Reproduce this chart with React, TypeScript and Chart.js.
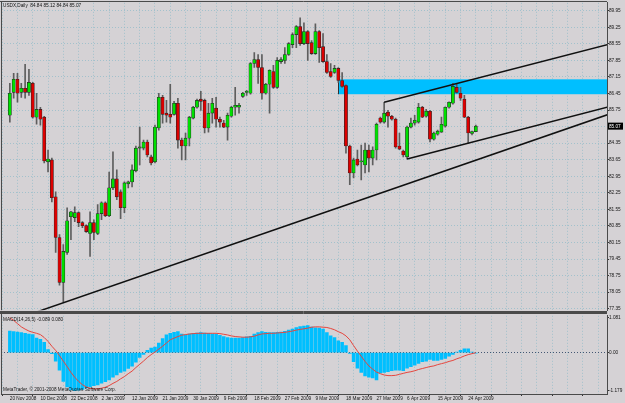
import React, { useEffect, useRef } from 'react';
import { Chart, registerables } from 'chart.js';

Chart.register(...registerables);

// ---------- data ----------
const titleText = 'USDX,Daily  84.84 85.12 84.84 85.07';
const macdTitle = 'MACD(14,26,5) -0.089 0.080';
const copyrightText = 'MetaTrader, \u00A9 2001-2008 MetaQuotes Software Corp.';

const opens = [
  85.53, 86.50, 87.05, 86.50, 86.67, 86.50, 86.88, 85.45, 85.78, 85.45,
  83.56, 83.64, 82.08, 80.36, 78.46, 79.73, 81.24, 81.20, 81.41, 80.99,
  80.86, 80.53, 80.99, 80.53, 81.37, 81.83, 81.28, 82.46, 82.84, 82.29,
  81.62, 82.63, 82.71, 83.18, 84.14, 84.14, 84.40, 83.77, 83.56, 84.99,
  86.29, 85.62, 85.57, 85.57, 86.04, 84.48, 84.23, 84.56, 85.41, 85.87,
  86.21, 86.16, 84.99, 85.62, 85.83, 85.36, 85.20, 85.03, 85.49, 85.87,
  85.87, 86.33, 86.50, 86.46, 87.72, 87.89, 87.55, 86.46, 86.84, 87.38,
  86.71, 87.80, 87.85, 88.10, 88.52, 88.94, 89.28, 88.56, 89.07, 88.60,
  88.14, 89.07, 88.43, 87.80, 87.38, 87.34, 87.51, 87.00, 86.79, 84.23,
  83.09, 83.68, 83.56, 83.43, 84.06, 83.72, 84.06, 85.41, 85.24, 85.66,
  85.49, 85.36, 84.23, 84.02, 83.77, 85.03, 85.20, 85.24, 85.87, 85.49,
  85.70, 84.52, 84.73, 84.82, 85.07, 85.87, 86.04, 86.71, 86.46, 86.21,
  85.45, 84.76, 84.84,
];
const highs = [
  86.88, 87.30, 87.30, 86.88, 87.68, 87.47, 86.92, 86.46, 85.87, 85.49,
  84.06, 83.72, 82.29, 80.48, 80.06, 81.62, 81.47, 81.66, 81.45, 81.03,
  80.90, 81.45, 81.11, 81.75, 81.87, 81.87, 83.13, 83.98, 83.22, 82.38,
  82.71, 82.75, 83.43, 84.23, 85.03, 84.48, 84.48, 83.85, 85.11, 86.46,
  86.37, 86.16, 86.84, 86.12, 86.25, 84.56, 84.78, 85.49, 85.91, 86.21,
  86.54, 86.21, 86.04, 86.25, 86.29, 85.45, 85.32, 85.62, 85.91, 86.71,
  86.04, 86.50, 86.58, 87.76, 88.18, 88.10, 88.10, 86.88, 87.45, 87.64,
  87.97, 87.97, 88.39, 88.60, 89.02, 89.32, 89.65, 89.44, 89.11, 88.69,
  89.40, 89.11, 88.98, 88.10, 87.72, 87.64, 87.55, 87.34, 86.82, 84.27,
  83.72, 84.06, 84.27, 84.35, 84.27, 84.19, 85.20, 85.45, 86.08, 85.74,
  85.53, 85.41, 84.78, 84.06, 85.07, 85.41, 85.53, 86.04, 85.91, 85.78,
  85.74, 84.82, 84.90, 85.45, 85.89, 86.10, 86.88, 86.88, 86.71, 86.37,
  85.49, 84.86, 85.12,
];
const lows = [
  85.24, 86.25, 86.08, 86.29, 86.25, 86.37, 85.41, 85.15, 85.11, 83.51,
  83.13, 81.87, 79.73, 78.34, 77.62, 79.64, 80.27, 81.03, 80.82, 80.78,
  80.57, 79.56, 80.27, 80.48, 81.11, 81.24, 81.24, 82.38, 81.96, 81.16,
  81.41, 82.46, 82.50, 83.13, 83.43, 84.06, 83.77, 83.43, 83.51, 84.90,
  85.20, 85.24, 85.20, 85.53, 84.14, 83.64, 83.64, 84.23, 85.38, 85.83,
  85.74, 84.78, 84.82, 85.20, 85.03, 85.03, 85.01, 84.48, 85.45, 85.53,
  85.62, 86.29, 86.37, 86.42, 87.55, 86.88, 86.21, 86.42, 85.62, 86.67,
  86.67, 87.72, 87.72, 88.06, 88.39, 88.39, 88.48, 88.52, 87.85, 88.10,
  88.10, 87.76, 87.76, 87.30, 87.13, 87.30, 86.92, 86.71, 83.93, 82.59,
  82.88, 83.39, 82.80, 83.09, 83.13, 83.43, 83.64, 85.20, 85.20, 85.03,
  85.32, 84.14, 84.08, 83.77, 83.68, 84.99, 85.11, 85.20, 85.43, 85.45,
  84.40, 84.48, 84.69, 84.80, 85.03, 85.83, 86.00, 86.46, 86.16, 85.43,
  84.35, 84.70, 84.84,
];
const closes = [
  86.46, 87.05, 86.46, 86.67, 86.50, 86.92, 85.45, 85.78, 85.36, 83.60,
  83.68, 82.04, 80.36, 78.46, 79.77, 81.07, 81.45, 81.41, 80.99, 80.86,
  80.61, 80.99, 80.57, 81.37, 81.83, 81.28, 82.46, 82.84, 82.08, 81.62,
  82.67, 82.71, 83.22, 84.14, 84.19, 84.40, 83.85, 83.51, 85.03, 86.29,
  85.57, 85.53, 85.45, 86.04, 84.48, 84.23, 84.56, 85.45, 85.87, 86.16,
  86.12, 84.99, 85.62, 86.04, 85.36, 85.24, 85.03, 85.53, 85.87, 85.95,
  85.95, 86.46, 86.54, 87.72, 87.89, 87.55, 86.46, 86.84, 87.43, 86.71,
  87.85, 87.89, 88.10, 88.56, 88.94, 89.28, 88.56, 89.07, 88.56, 88.14,
  89.07, 88.39, 87.80, 87.34, 87.17, 87.51, 87.00, 86.75, 84.23, 83.09,
  83.64, 83.43, 83.60, 84.06, 83.72, 84.06, 85.15, 85.24, 85.62, 85.49,
  85.36, 84.19, 84.10, 83.85, 85.03, 85.20, 85.32, 85.87, 85.45, 85.70,
  84.52, 84.78, 84.86, 85.15, 85.87, 86.08, 86.75, 86.50, 86.25, 85.45,
  84.78, 84.84, 85.07,
];

const macdHist = [
  0.67, 0.65, 0.64, 0.62, 0.60, 0.58, 0.56, 0.45, 0.41, 0.32,
  0.10, -0.03, -0.26, -0.54, -0.89, -1.06, -1.15, -1.179, -1.16, -1.14,
  -1.09, -1.06, -1.02, -1.00, -0.94, -0.90, -0.84, -0.76, -0.69, -0.61,
  -0.57, -0.49, -0.42, -0.29, -0.15, -0.05, 0.07, 0.14, 0.17, 0.30,
  0.44, 0.55, 0.60, 0.63, 0.65, 0.58, 0.55, 0.58, 0.60, 0.61,
  0.62, 0.61, 0.60, 0.58, 0.57, 0.54, 0.50, 0.47, 0.45, 0.45,
  0.45, 0.47, 0.49, 0.51, 0.58, 0.62, 0.65, 0.63, 0.62, 0.62,
  0.63, 0.64, 0.66, 0.70, 0.73, 0.78, 0.81, 0.82, 0.84, 0.79,
  0.77, 0.76, 0.73, 0.62, 0.52, 0.47, 0.37, 0.32, 0.22, -0.02,
  -0.28, -0.48, -0.61, -0.72, -0.76, -0.78, -0.84, -0.63, -0.61, -0.59,
  -0.56, -0.54, -0.54, -0.56, -0.48, -0.43, -0.39, -0.33, -0.28, -0.26,
  -0.21, -0.24, -0.24, -0.21, -0.18, -0.11, -0.05, 0.02, 0.07, 0.12,
  0.12, 0.02, -0.01,
];
const macdSignal = [
  1.081, 1.00, 0.90, 0.80, 0.73, 0.67, 0.63, 0.60, 0.56, 0.47,
  0.35, 0.20, 0.07, -0.09, -0.26, -0.43, -0.61, -0.76, -0.89, -0.99,
  -1.06, -1.10, -1.12, -1.12, -1.10, -1.07, -1.02, -0.95, -0.89, -0.81,
  -0.74, -0.65, -0.57, -0.46, -0.36, -0.26, -0.15, -0.06, 0.02, 0.11,
  0.20, 0.30, 0.40, 0.45, 0.50, 0.54, 0.56, 0.58, 0.59, 0.60,
  0.60, 0.60, 0.60, 0.60, 0.60, 0.59, 0.57, 0.55, 0.52, 0.50,
  0.49, 0.48, 0.48, 0.49, 0.51, 0.55, 0.58, 0.59, 0.60, 0.60,
  0.61, 0.62, 0.63, 0.65, 0.67, 0.70, 0.72, 0.74, 0.76, 0.79,
  0.80, 0.80, 0.79, 0.78, 0.75, 0.71, 0.65, 0.60, 0.52, 0.40,
  0.22, 0.05, -0.11, -0.27, -0.41, -0.51, -0.60, -0.65, -0.69, -0.71,
  -0.71, -0.70, -0.67, -0.64, -0.61, -0.59, -0.56, -0.52, -0.49, -0.46,
  -0.43, -0.41, -0.37, -0.34, -0.31, -0.27, -0.24, -0.19, -0.15, -0.10,
  -0.06, -0.03, 0.00,
];

const priceTicks = [
  89.95, 89.25, 88.55, 87.85, 87.15, 86.45, 85.75, 85.05, 84.35, 83.65,
  82.95, 82.25, 81.55, 80.85, 80.15, 79.45, 78.75, 78.05, 77.35,
];
const lastPrice = 85.07;
const hiddenPriceTick = 85.05;
const macdTicks = [1.081, 0, -1.179];
const macdTickLabels = ['1.081', '0.00', '-1.179'];
const dateLabels = [
  '20 Nov 2008', '10 Dec 2008', '22 Dec 2008', '2 Jan 2009', '12 Jan 2009',
  '21 Jan 2009', '30 Jan 2009', '9 Feb 2009', '18 Feb 2009', '27 Feb 2009',
  '9 Mar 2009', '18 Mar 2009', '27 Mar 2009', '6 Apr 2009', '15 Apr 2009',
  '24 Apr 2009',
];
const barsPerDateLabel = 8;
const barsPerGridLine = 4;

// rectangle zone
const zoneStartBar = 86;
const zoneTop = 87.05;
const zoneBottom = 86.42;
// trend lines: [bar, price] anchors
const supportAnchors = [[14, 77.6], [122, 83.63]];
const channelUpperAnchors = [[98, 86.08], [116, 86.83]];
const channelLowerAnchors = [[104, 83.68], [120, 84.35]];

// ---------- styles / axis ranges ----------
const FONT_FAMILY = '"Liberation Sans", Arial, sans-serif';
const FS = 4.7;
const BG = '#d5d2d5';
const GRID = 'rgba(140,185,200,0.7)';
const FRAME = '#4a4a4a';
const TEXT = '#151515';
const BULL = '#00e000';
const BEAR = '#dc0000';
const WICK = '#5e5e5e';
const ZONE = '#00bfff';
const HIST = '#00bfff';
const SIGNAL = '#e5463e';
const TREND = '#101010';

const X_MIN = -0.28;
const X_MAX = 154.31;
const Y_MIN = 77.286;
const Y_MAX = 90.286;
const M_MIN = -1.279;
const M_MAX = 1.1415;
const AXIS_W = 18;
const LAST_BAR_SLOT = 152;

const idx = closes.map((_, i) => i);
const gridBars: number[] = [];
for (let b = 0; b <= LAST_BAR_SLOT; b += barsPerGridLine) gridBars.push(b);

function rayPoints(anchors: number[][], fromX: number, toX: number) {
  const [[x1, y1], [x2, y2]] = anchors;
  const k = (y2 - y1) / (x2 - x1);
  return [
    { x: fromX, y: y1 + k * (fromX - x1) },
    { x: toX, y: y1 + k * (toX - x1) },
  ];
}

const font = { family: FONT_FAMILY, size: FS };

function mainConfig(): any {
  const wickData = idx.map((i) => ({ x: i, y: [lows[i], highs[i]] }));
  const bodyData = idx.map((i) => ({
    x: i,
    y: [Math.min(opens[i], closes[i]), Math.max(opens[i], closes[i])],
  }));
  const bodyColors = idx.map((i) => (closes[i] >= opens[i] ? BULL : BEAR));
  const lineDs = (data: any[]) => ({
    type: 'line',
    data,
    borderColor: TREND,
    borderWidth: 1.5,
    pointRadius: 0,
    tension: 0,
    clip: 0,
    order: 0,
  });

  const decor = {
    id: 'mainDecor',
    beforeDraw(chart: any) {
      const { ctx, width, height } = chart;
      ctx.save();
      ctx.fillStyle = BG;
      ctx.fillRect(0, 0, width, height);
      ctx.restore();
    },
    beforeDatasetsDraw(chart: any) {
      const { ctx, chartArea, scales } = chart;
      const x0 = scales.x.getPixelForValue(zoneStartBar);
      const yT = scales.y.getPixelForValue(zoneTop);
      const yB = scales.y.getPixelForValue(zoneBottom);
      ctx.save();
      ctx.fillStyle = ZONE;
      ctx.fillRect(x0, yT, chartArea.right - x0, yB - yT);
      ctx.strokeStyle = '#303030';
      ctx.lineWidth = 1;
      ctx.beginPath();
      ctx.moveTo(Math.round(x0) + 0.5, yT);
      ctx.lineTo(Math.round(x0) + 0.5, yB);
      ctx.stroke();
      ctx.restore();
    },
    afterDraw(chart: any) {
      const { ctx, chartArea, scales } = chart;
      ctx.save();
      ctx.strokeStyle = FRAME;
      ctx.lineWidth = 1;
      ctx.beginPath();
      ctx.moveTo(0, 1.5);
      ctx.lineTo(chartArea.right, 1.5);
      ctx.moveTo(1.5, 1);
      ctx.lineTo(1.5, chartArea.bottom);
      ctx.moveTo(0, 311.5);
      ctx.lineTo(chartArea.right, 311.5);
      ctx.moveTo(0, 312.5);
      ctx.lineTo(chartArea.right, 312.5);
      ctx.stroke();
      // title
      ctx.fillStyle = TEXT;
      ctx.font = `${FS}px ${FONT_FAMILY}`;
      ctx.textBaseline = 'middle';
      ctx.textAlign = 'left';
      ctx.fillText(titleText, chartArea.left + 2, 5.5);
      // last price box
      const py = scales.y.getPixelForValue(lastPrice);
      ctx.fillStyle = '#000';
      ctx.fillRect(chartArea.right + 1, py - 3.5, 15, 7);
      ctx.fillStyle = '#fff';
      ctx.fillText(lastPrice.toFixed(2), chartArea.right + 2, py + 0.3);
      ctx.restore();
    },
  };

  return {
    type: 'bar',
    data: {
      datasets: [
        lineDs(rayPoints(supportAnchors, -5, 160)),
        lineDs(rayPoints(channelUpperAnchors, channelUpperAnchors[0][0], 160)),
        lineDs(rayPoints(channelLowerAnchors, channelLowerAnchors[0][0], 160)),
        {
          type: 'bar',
          data: bodyData,
          backgroundColor: bodyColors,
          borderColor: '#262626',
          borderWidth: 0.6,
          borderSkipped: false,
          grouped: false,
          categoryPercentage: 1,
          barPercentage: 1,
          maxBarThickness: 3.2,
          order: 1,
        },
        {
          type: 'bar',
          data: wickData,
          backgroundColor: WICK,
          borderWidth: 0,
          grouped: false,
          categoryPercentage: 1,
          barPercentage: 1,
          maxBarThickness: 1,
          order: 2,
        },
      ],
    },
    options: {
      animation: false,
      responsive: false,
      maintainAspectRatio: false,
      devicePixelRatio: 1,
      events: [],
      layout: { autoPadding: false, padding: { left: 1, top: 2, right: 0, bottom: 2 } },
      plugins: { legend: { display: false }, tooltip: { enabled: false } },
      scales: {
        x: {
          type: 'linear',
          min: X_MIN,
          max: X_MAX,
          afterBuildTicks: (s: any) => {
            s.ticks = gridBars.map((v) => ({ value: v }));
          },
          afterFit: (s: any) => {
            s.height = 0;
          },
          ticks: { display: false },
          grid: { color: GRID, lineWidth: 1, drawTicks: false },
          border: { display: false, dash: [1, 2] },
        },
        y: {
          type: 'linear',
          position: 'right',
          min: Y_MIN,
          max: Y_MAX,
          afterBuildTicks: (s: any) => {
            s.ticks = priceTicks.map((v) => ({ value: v }));
          },
          afterFit: (s: any) => {
            s.width = AXIS_W;
          },
          ticks: {
            font,
            color: TEXT,
            padding: 0,
            autoSkip: false,
            callback: (v: number) => (v === hiddenPriceTick ? '' : v.toFixed(2)),
          },
          grid: { color: GRID, lineWidth: 1, drawTicks: true, tickLength: 2, tickColor: '#333' },
          border: { display: true, color: FRAME, width: 1, dash: [1, 2] },
        },
      },
    },
    plugins: [decor],
  };
}

function macdConfig(): any {
  const histData = idx.map((i) => ({ x: i, y: macdHist[i] }));
  const sigData = idx.map((i) => ({ x: i, y: macdSignal[i] }));

  const decor = {
    id: 'macdDecor',
    beforeDraw(chart: any) {
      const { ctx, width, height } = chart;
      ctx.save();
      ctx.fillStyle = BG;
      ctx.fillRect(0, 0, width, height);
      ctx.restore();
    },
    afterDraw(chart: any) {
      const { ctx, chartArea } = chart;
      ctx.save();
      ctx.strokeStyle = FRAME;
      ctx.lineWidth = 1;
      ctx.beginPath();
      ctx.moveTo(0, 0.5);
      ctx.lineTo(chartArea.right, 0.5);
      ctx.moveTo(1.5, 0);
      ctx.lineTo(1.5, chartArea.bottom);
      ctx.stroke();
      ctx.fillStyle = TEXT;
      ctx.font = `${FS}px ${FONT_FAMILY}`;
      ctx.textBaseline = 'middle';
      ctx.textAlign = 'left';
      ctx.fillText(macdTitle, chartArea.left + 2, chartArea.top + 3.5);
      ctx.fillText(copyrightText, chartArea.left + 2, chartArea.bottom - 4.5);
      ctx.restore();
    },
  };

  return {
    type: 'bar',
    data: {
      datasets: [
        {
          type: 'line',
          data: sigData,
          borderColor: SIGNAL,
          borderWidth: 1,
          pointRadius: 0,
          tension: 0,
          clip: 0,
          order: 0,
        },
        {
          type: 'bar',
          data: histData,
          backgroundColor: HIST,
          borderWidth: 0,
          grouped: false,
          categoryPercentage: 1,
          barPercentage: 1,
          maxBarThickness: 2.9,
          order: 1,
        },
      ],
    },
    options: {
      animation: false,
      responsive: false,
      maintainAspectRatio: false,
      devicePixelRatio: 1,
      events: [],
      layout: { autoPadding: false, padding: { left: 1, top: 1, right: 0, bottom: 0 } },
      plugins: { legend: { display: false }, tooltip: { enabled: false } },
      scales: {
        x: {
          type: 'linear',
          min: X_MIN,
          max: X_MAX,
          afterBuildTicks: (s: any) => {
            s.ticks = gridBars.map((v) => ({ value: v }));
          },
          afterFit: (s: any) => {
            s.height = 9;
          },
          ticks: {
            font,
            color: TEXT,
            align: 'start',
            maxRotation: 0,
            minRotation: 0,
            autoSkip: false,
            padding: 0,
            callback: (v: number) => {
              const k = v / barsPerDateLabel;
              return Number.isInteger(k) && k < dateLabels.length ? dateLabels[k] : '';
            },
          },
          grid: {
            color: GRID,
            lineWidth: 1,
            drawTicks: true,
            tickLength: 2,
            tickColor: (c: any) =>
              c.tick && Number.isInteger(c.tick.value / barsPerDateLabel) ? '#333' : 'rgba(0,0,0,0)',
          },
          border: { display: true, color: FRAME, width: 1, dash: [1, 2] },
        },
        y: {
          type: 'linear',
          position: 'right',
          min: M_MIN,
          max: M_MAX,
          afterBuildTicks: (s: any) => {
            s.ticks = macdTicks.map((v) => ({ value: v }));
          },
          afterFit: (s: any) => {
            s.width = AXIS_W;
          },
          ticks: {
            font,
            color: TEXT,
            padding: 0,
            autoSkip: false,
            callback: (v: number, i: number) => macdTickLabels[i],
          },
          grid: {
            color: (c: any) => (c.tick && c.tick.value === 0 ? 'rgba(60,80,110,0.95)' : 'rgba(0,0,0,0)'),
            lineWidth: 1,
            drawTicks: true,
            tickLength: 2,
            tickColor: '#333',
          },
          border: { display: true, color: FRAME, width: 1, dash: [1, 2] },
        },
      },
    },
    plugins: [decor],
  };
}

export default function App() {
  const mainRef = useRef<HTMLCanvasElement>(null);
  const macdRef = useRef<HTMLCanvasElement>(null);

  useEffect(() => {
    const c1 = new Chart(mainRef.current as HTMLCanvasElement, mainConfig());
    const c2 = new Chart(macdRef.current as HTMLCanvasElement, macdConfig());
    return () => {
      c1.destroy();
      c2.destroy();
    };
  }, []);

  return (
    <div style={{ position: 'fixed', left: 0, top: 0, width: 625, height: 403, background: BG, overflow: 'hidden' }}>
      <canvas
        ref={mainRef}
        width={625}
        height={313}
        style={{ position: 'absolute', left: 0, top: 0, width: 625, height: 313 }}
      />
      <canvas
        ref={macdRef}
        width={625}
        height={90}
        style={{ position: 'absolute', left: 0, top: 313, width: 625, height: 90 }}
      />
    </div>
  );
}
